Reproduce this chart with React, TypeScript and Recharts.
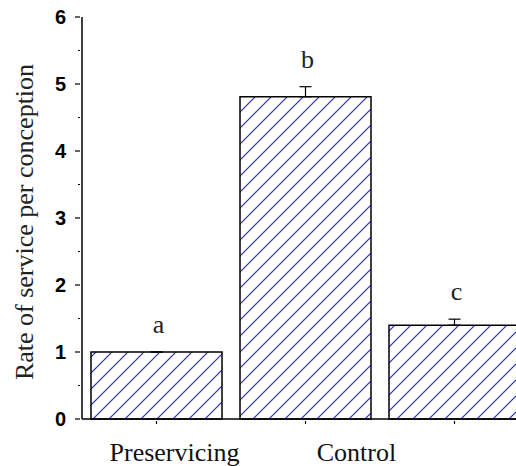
import { Bar, BarChart, ErrorBar, LabelList, XAxis, YAxis } from 'recharts';

const GROUPS = ['Preservicing', 'Control', ''];
const RATES = [1.0, 4.81, 1.4];
const ERR_UP = [0, 0.15, 0.09];
const LETTERS = ['a', 'b', 'c'];
const Y_TICKS = [0, 0.5, 1, 1.5, 2, 2.5, 3, 3.5, 4, 4.5, 5, 5.5, 6];

// the x labels in the original sit to the right of their bars
const LABEL_DX = [18, 51, 0];

const SERIF = '"Liberation Serif", "Times New Roman", serif';

const data = GROUPS.map((group, i) => ({
  group,
  rate: RATES[i],
  err: [0, ERR_UP[i]],
  letter: LETTERS[i],
}));

function YTick(props: any) {
  const { x, y, payload } = props;
  const major = Number.isInteger(payload.value);
  return (
    <g>
      <line x1={x - (major ? 5 : 2)} x2={x} y1={y} y2={y} stroke="#000" strokeWidth={1.2} />
      {major && (
        <text
          x={x - 14}
          y={y}
          dy={7}
          textAnchor="end"
          fontFamily='"Liberation Sans", Arial, sans-serif'
          fontWeight="bold"
          fontSize={20}
          fill="#000"
        >
          {payload.value}
        </text>
      )}
    </g>
  );
}

function XTick(props: any) {
  const { x, y, payload, index } = props;
  return (
    <g>
      <line x1={x} x2={x} y1={y} y2={y + 3} stroke="#000" strokeWidth={1.2} />
      <text
        x={x + (LABEL_DX[index] ?? 0)}
        y={y + 40}
        textAnchor="middle"
        fontFamily={SERIF}
        fontSize={26}
        fill="#111"
      >
        {payload.value}
      </text>
    </g>
  );
}

function Letter(props: any) {
  const { x, y, width, height, value, index } = props;
  const pxPerUnit = Number(height) / RATES[index];
  const top = Number(y) - ERR_UP[index] * pxPerUnit;
  return (
    <text
      x={Number(x) + Number(width) / 2 + 2}
      y={top - 19}
      textAnchor="middle"
      fontFamily={SERIF}
      fontSize={26}
      fill="#222"
    >
      {value}
    </text>
  );
}

function YLabel(props: any) {
  const { viewBox } = props;
  const cx = 33;
  const cy = viewBox.y + viewBox.height / 2 + 4;
  return (
    <text
      x={cx}
      y={cy}
      transform={`rotate(-90 ${cx} ${cy})`}
      textAnchor="middle"
      fontFamily={SERIF}
      fontSize={26}
      fill="#222"
    >
      Rate of service per conception
    </text>
  );
}

export default function App() {
  return (
    <div
      style={{
        position: 'fixed',
        left: 0,
        top: 0,
        width: 516,
        height: 466,
        overflow: 'hidden',
        background: '#fff',
      }}
    >
      <BarChart
        width={540}
        height={466}
        data={data}
        margin={{ top: 17, right: 11, left: 0, bottom: 0 }}
        barCategoryGap={9}
      >
        <defs>
          <pattern id="hatch" patternUnits="userSpaceOnUse" width={16} height={16}>
            <rect width={16} height={16} fill="#fff" />
            <path
              d="M0,16 L16,0 M-3,3 L3,-3 M13,19 L19,13"
              stroke="#2626d4"
              strokeWidth={1.2}
            />
          </pattern>
        </defs>
        <XAxis
          dataKey="group"
          height={47}
          tick={<XTick />}
          tickLine={false}
          tickSize={0}
          axisLine={{ stroke: '#000', strokeWidth: 1.5 }}
          interval={0}
        />
        <YAxis
          width={82}
          domain={[0, 6]}
          ticks={Y_TICKS}
          interval={0}
          tick={<YTick />}
          tickLine={false}
          tickSize={0}
          axisLine={{ stroke: '#000', strokeWidth: 1.5 }}
          label={<YLabel />}
        />
        <Bar
          dataKey="rate"
          fill="url(#hatch)"
          stroke="#000"
          strokeWidth={1.5}
          isAnimationActive={false}
        >
          <ErrorBar dataKey="err" direction="y" width={6} stroke="#000" strokeWidth={1.2} />
          <LabelList dataKey="letter" content={<Letter />} />
        </Bar>
      </BarChart>
    </div>
  );
}
